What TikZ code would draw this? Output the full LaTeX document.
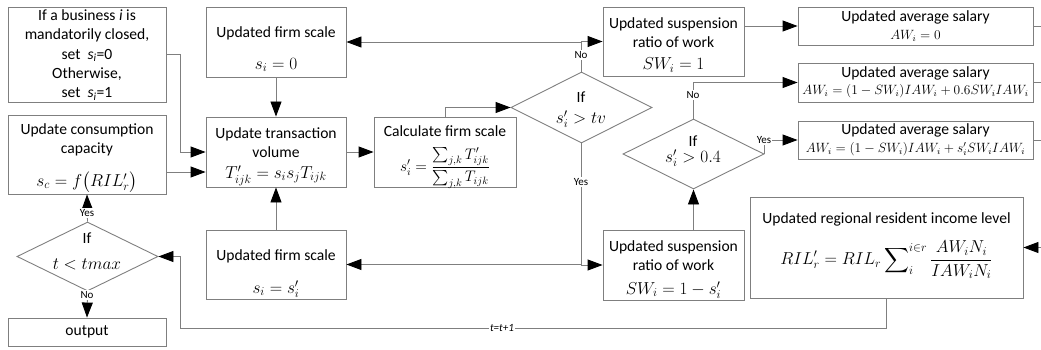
\documentclass[tikz,border=0pt]{standalone}
\usepackage{amsmath}
\usepackage{fontspec}
\setmainfont{Carlito}
\usetikzlibrary{arrows.meta,shapes.geometric,calc}
\definecolor{ln}{HTML}{7F7F7F}
\newcommand\bx{\fontsize{15.6}{19.2}\selectfont}
\newcommand\mbx{\fontsize{17.28}{19.2}\selectfont}
\newcommand\fbx{\fontsize{14.4}{16}\selectfont}
\newcommand\smlab{\fontsize{11}{13}\selectfont}
\newcommand\mth{\fontsize{12}{14}\selectfont}
\begin{document}
\begin{tikzpicture}[x=1pt,y=-1pt,
  box/.style={draw=ln, line width=0.9pt, inner sep=0pt, rectangle},
  dia/.style={draw=ln, line width=0.9pt, inner sep=0pt, diamond},
  txt/.style={inner sep=0pt, align=center, font=\bx},
  mtxt/.style={inner sep=0pt, align=center, font=\mbx},
  stxt/.style={inner sep=0pt, align=center, font=\mth, scale=1.12, transform shape},
  lab/.style={inner sep=1pt, fill=white, font=\smlab},
  con/.style={draw=ln, line width=0.9pt},
  arr/.style={con, -{Triangle[length=15pt,width=11pt,color=black]}},
]
\useasboundingbox (0,0) rectangle (1041,350);
% boxes
\node[box, minimum width=158, minimum height=95] (A) at (87,54.5) {};
\node[box, minimum width=140, minimum height=70] (B) at (276,42) {};
\node[box, minimum width=158, minimum height=79] (C) at (87,154.5) {};
\node[box, minimum width=140, minimum height=70] (D) at (276,152) {};
\node[box, minimum width=140, minimum height=69] (E) at (276,264.5) {};
\node[dia, minimum width=141, minimum height=69] (F) at (87.5,256.5) {};
\node[box, minimum width=158, minimum height=28] (G) at (87,332) {};
\node[box, minimum width=142, minimum height=70] (H) at (445,152) {};
\node[dia, minimum width=141, minimum height=71] (I) at (581.5,107.5) {};
\node[box, minimum width=141, minimum height=69] (J) at (673.5,41.5) {};
\node[dia, minimum width=141, minimum height=70] (K) at (693.5,154) {};
\node[box, minimum width=141, minimum height=70] (L) at (673.5,265) {};
\node[box, minimum width=235, minimum height=38] (M) at (915.5,26) {};
\node[box, minimum width=235, minimum height=39] (N) at (915.5,82.5) {};
\node[box, minimum width=235, minimum height=38] (O) at (915.5,140) {};
\node[box, minimum width=273, minimum height=101] (P) at (886.5,247.5) {};
% texts
\node[txt] (At) at (87,55) {If a business \textit{i} is\\mandatorily closed,\\set\ \ \textit{s\textsubscript{i}}=0\\Otherwise,\\set\ \ \textit{s\textsubscript{i}}=1};
\node[txt] (Bt) at (276,33) {Updated firm scale};
\node[mtxt] (Bm) at (276,65) {$s_i = 0$};
\node[txt] (Ct) at (87,140) {Update consumption\\capacity};
\node[mtxt] (Cm) at (87,182) {$s_c = f\bigl(RIL_r'\bigr)$};
\node[txt] (Dt) at (276,143) {Update transaction\\volume};
\node[mtxt] (Dm) at (276,175.5) {$T'_{ijk} = s_i s_j T_{ijk}$};
\node[txt] (Et) at (276,256) {Updated firm scale};
\node[mtxt] (Em) at (276,289) {$s_i = s_i'$};
\node[txt] (Ft) at (87,238) {If};
\node[mtxt] (Fm) at (87,264) {$t < tmax$};
\node[txt] (Gt) at (87,332) {output};
\node[txt] (Ht) at (445,131) {Calculate firm scale};
\node[inner sep=0pt, font=\fbx, scale=1.06, transform shape] (Hm) at (445,168) {$s_i' = \dfrac{\sum_{j,k} T'_{ijk}}{\sum_{j,k} T_{ijk}}$};
\node[txt] (It) at (581,97) {If};
\node[mtxt] (Im) at (581,119) {$s_i' > tv$};
\node[txt] (Jt) at (673.5,33) {Updated suspension\\ratio of work};
\node[mtxt] (Jm) at (673.5,65) {$SW_i = 1$};
\node[txt] (Kt) at (693,141) {If};
\node[mtxt] (Km) at (693,158) {$s_i' > 0.4$};
\node[txt] (Lt) at (673.5,255.5) {Updated suspension\\ratio of work};
\node[mtxt] (Lm) at (673.5,290) {$SW_i = 1 - s_i'$};
\node[txt] (Mt) at (915.5,17.5) {Updated average salary};
\node[stxt] (Mm) at (915.5,36) {$AW_i = 0$};
\node[txt] (Nt) at (915.5,73) {Updated average salary};
\node[stxt] (Nm) at (915.5,91) {$AW_i = (1 - SW_i)IAW_i + 0.6SW_iIAW_i$};
\node[txt] (Ot) at (915.5,130.5) {Updated average salary};
\node[stxt] (Om) at (915.5,149) {$AW_i = (1 - SW_i)IAW_i + s_i'SW_iIAW_i$};
\node[txt] (Pt) at (886.5,219) {Updated regional resident income level};
\node[mtxt] (Pm) at (886.5,260) {$\displaystyle RIL_r' = RIL_r \sum\nolimits_i^{i\in r} \frac{AW_iN_i}{IAW_iN_i}$};
% helper coordinates
\coordinate (aD) at (180,0);
\coordinate (cy) at (0,172);
\coordinate (lp) at (180,328);
\coordinate (eM) at (1041,26);
\coordinate (eN) at (1041,82.5);
\coordinate (eO) at (1041,140);
\coordinate (eP) at (1041,247.5);
% connectors
\draw[arr] (A.east) -| (aD |- D.west) -- (D.west);
\draw[arr] (C.east |- cy) -- (D.west |- cy);
\draw[arr] (B.south) -- (D.north);
\draw[arr] (E.north) -- (D.south);
\draw[arr] (D.east) -- (H.west);
\draw[arr] (H.north) |- (I.west);
\draw[arr] (I.north) |- (J.west);
\draw[arr] (I.north) |- (B.east);
\draw[arr] (I.south) |- (L.west);
\draw[arr] (I.south) |- (E.east);
\draw[arr] (L.north -| K.south) -- (K.south);
\draw[arr] (K.north) |- (N.west);
\draw[arr] (K.east) |- (O.west);
\draw[arr] (J.east |- M.west) -- (M.west);
\draw[con] (M.east) -- (eM);
\draw[con] (N.east) -- (eN);
\draw[con] (O.east) -- (eO);
\draw[arr] (eP) -- (P.east);
\draw[arr] (P.south) |- (lp) |- (F.east);
\draw[arr] (F.north) -- (C.south);
\draw[arr] (F.south) -- (G.north);
% labels
\node[lab] (l1) at (581,55) {No};
\node[lab] (l2) at (581,182) {Yes};
\node[lab] (l3) at (693,95) {No};
\node[lab] (l4) at (764,140) {Yes};
\node[lab] (l5) at (87,213) {Yes};
\node[lab] (l6) at (87,295) {No};
\node[lab] (l7) at (502,328) {\textit{t=t+1}};
\end{tikzpicture}
\end{document}
